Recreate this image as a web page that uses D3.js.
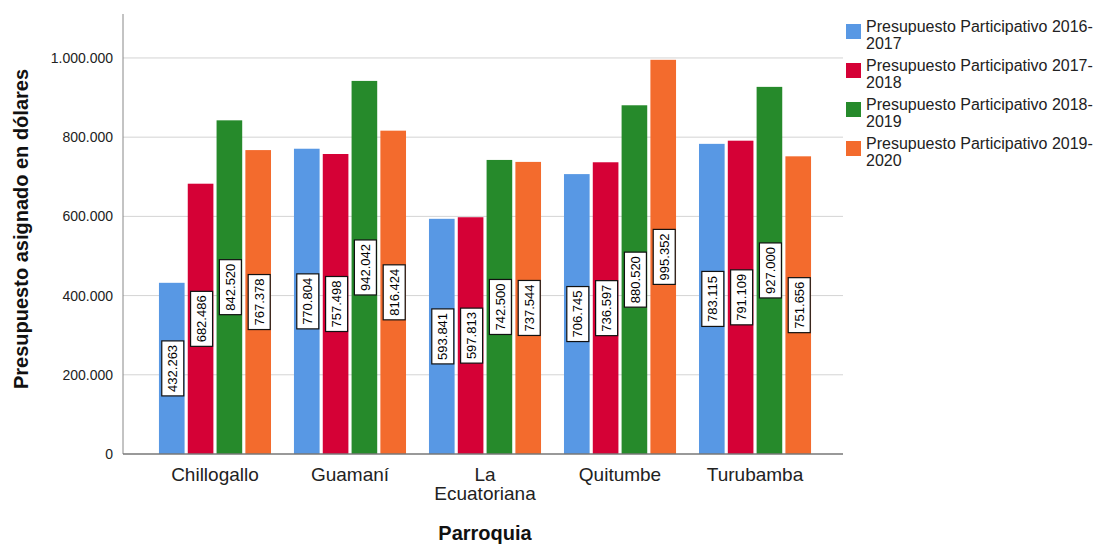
<!DOCTYPE html>
<html>
<head>
<meta charset="utf-8">
<script src="https://cdn.jsdelivr.net/npm/d3@7/dist/d3.min.js"></script>
<style>
  body { margin: 0; background: #fff; }
  text { font-family: "Liberation Sans", Arial, sans-serif; }
</style>
</head>
<body>
<div id="container"></div>
<script>
// data
const parroquias = ["Chillogallo", "Guamaní", "La Ecuatoriana", "Quitumbe", "Turubamba"];
const periodos = ["Presupuesto Participativo 2016-2017", "Presupuesto Participativo 2017-2018",
                  "Presupuesto Participativo 2018-2019", "Presupuesto Participativo 2019-2020"];
const p2016 = [432263, 770804, 593841, 706745, 783115];
const p2017 = [682486, 757498, 597813, 736597, 791109];
const p2018 = [842520, 942042, 742500, 880520, 927000];
const p2019 = [767378, 816424, 737544, 995352, 751656];
const yTicks = [0, 200000, 400000, 600000, 800000, 1000000];
const colors = ["#5898e4", "#d50136", "#268a2b", "#f36b2d"];

const series = [p2016, p2017, p2018, p2019];

const width = 1111;
const height = 544;
const plotLeft = 123;
const plotRight = 843;
const plotTop = 14;
const plotBottom = 454;

const locale = d3.formatLocale({ decimal: ",", thousands: ".", grouping: [3], currency: ["$", ""] });
const fmt = locale.format(",d");

const svg = d3.create("svg")
    .attr("width", width)
    .attr("height", height);

const y = d3.scaleLinear()
    .domain([0, 1111000])
    .range([plotBottom, plotTop]);

const x = d3.scaleBand()
    .domain(parroquias)
    .range([136, 834])
    .paddingInner(0.17)
    .paddingOuter(0.17);

const xInner = d3.scaleBand()
    .domain(d3.range(series.length))
    .range([0, x.bandwidth()])
    .paddingInner(0.11);

// gridlines
svg.append("g")
  .selectAll("line")
  .data(yTicks.filter(d => d > 0))
  .join("line")
    .attr("x1", plotLeft)
    .attr("x2", plotRight)
    .attr("y1", d => y(d))
    .attr("y2", d => y(d))
    .attr("stroke", "#d4d4d4")
    .attr("stroke-width", 1);

// y axis
const yAxis = svg.append("g")
    .attr("transform", `translate(${plotLeft},0)`)
    .call(d3.axisLeft(y).tickValues(yTicks).tickSize(0).tickPadding(10).tickFormat(fmt));
yAxis.select(".domain").remove();
yAxis.selectAll("text")
    .attr("font-size", 14)
    .attr("fill", "#222")
    .attr("font-family", "Liberation Sans, Arial, sans-serif");

svg.append("line")
    .attr("x1", plotLeft).attr("x2", plotLeft)
    .attr("y1", plotTop).attr("y2", plotBottom)
    .attr("stroke", "#888");

// bars
const groups = svg.append("g")
  .selectAll("g")
  .data(parroquias)
  .join("g")
    .attr("transform", d => `translate(${x(d)},0)`);

const cells = groups.selectAll("g")
  .data((d, i) => series.map((s, k) => ({ k, v: s[i] })))
  .join("g");

cells.append("rect")
    .attr("x", d => xInner(d.k))
    .attr("width", xInner.bandwidth())
    .attr("y", d => y(d.v))
    .attr("height", d => y(0) - y(d.v))
    .attr("fill", d => colors[d.k]);

// value labels, rotated, centred on the bar
const lab = cells.append("g")
    .attr("transform", d => `translate(${xInner(d.k) + xInner.bandwidth() / 2 + 1},${(y(d.v) + y(0)) / 2}) rotate(-90)`);
lab.append("rect")
    .attr("x", -27.5)
    .attr("y", -11)
    .attr("width", 55)
    .attr("height", 22)
    .attr("fill", "#fff")
    .attr("stroke", "#111")
    .attr("stroke-width", 1.2);
lab.append("text")
    .attr("text-anchor", "middle")
    .attr("dy", "0.36em")
    .attr("font-size", 13)
    .attr("fill", "#000")
    .text(d => fmt(d.v));

// x axis line
svg.append("line")
    .attr("x1", plotLeft).attr("x2", plotRight)
    .attr("y1", plotBottom).attr("y2", plotBottom)
    .attr("stroke", "#777")
    .attr("stroke-width", 1.3);

// category labels (two words wrap onto two lines like the original)
svg.append("g")
  .selectAll("text")
  .data(parroquias)
  .join("text")
    .attr("text-anchor", "middle")
    .attr("font-size", 19)
    .attr("fill", "#222")
    .attr("x", d => x(d) + x.bandwidth() / 2)
    .attr("y", 481)
    .each(function(d) {
      const words = d === "La Ecuatoriana" ? ["La", "Ecuatoriana"] : [d];
      d3.select(this).selectAll("tspan")
        .data(words)
        .join("tspan")
          .attr("x", x(d) + x.bandwidth() / 2)
          .attr("dy", (w, i) => i === 0 ? 0 : 19)
          .text(w => w);
    });

// axis titles
svg.append("text")
    .attr("text-anchor", "middle")
    .attr("font-size", 20)
    .attr("font-weight", "bold")
    .attr("fill", "#111")
    .attr("x", 485)
    .attr("y", 540)
    .text("Parroquia");

svg.append("text")
    .attr("text-anchor", "middle")
    .attr("font-size", 20)
    .attr("font-weight", "bold")
    .attr("fill", "#111")
    .attr("transform", `translate(28,229) rotate(-90)`)
    .text("Presupuesto asignado en dólares");

// legend
const legend = svg.append("g")
  .selectAll("g")
  .data(periodos)
  .join("g")
    .attr("transform", (d, i) => `translate(846,${24 + i * 39})`);

legend.append("rect")
    .attr("width", 15)
    .attr("height", 15)
    .attr("fill", (d, i) => colors[i]);

legend.append("text")
    .attr("x", 20)
    .attr("font-size", 16)
    .attr("fill", "#222")
    .selectAll("tspan")
    .data(d => {
      const cut = d.lastIndexOf("-") + 1;
      return [d.slice(0, cut), d.slice(cut)];
    })
    .join("tspan")
      .attr("x", 20)
      .attr("y", (t, i) => 8 + i * 17)
      .text(t => t);

container.append(svg.node());
</script>
</body>
</html>
